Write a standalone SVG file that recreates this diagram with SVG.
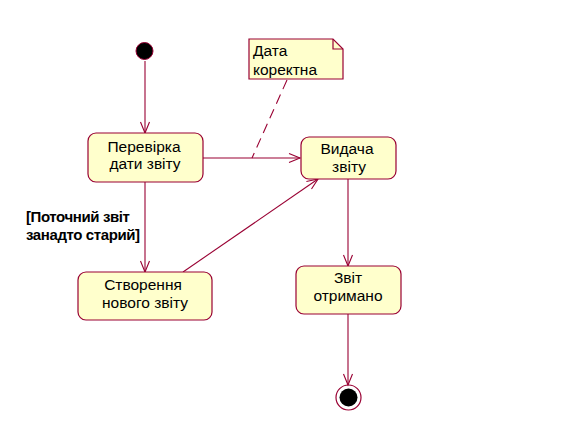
<svg xmlns="http://www.w3.org/2000/svg" width="587" height="440" viewBox="0 0 587 440">
<defs>
<style>
.st{fill:#FFFFCC;stroke:#990033;stroke-width:1.2}
.t{font-family:"Liberation Sans",Arial,sans-serif;font-size:15.5px;fill:#000;text-anchor:middle}
.n{font-family:"Liberation Sans",Arial,sans-serif;font-size:15.5px;fill:#000}
.c{fill:none;stroke:#990033;stroke-width:1.1}
.g{font-family:"Liberation Sans",Arial,sans-serif;font-size:15px;font-weight:bold;fill:#000;letter-spacing:-0.4px}
</style>
<marker id="a" markerWidth="14" markerHeight="12" refX="12" refY="6" orient="auto" markerUnits="userSpaceOnUse">
<path d="M1,1.5 L12,6 L1,10.5" fill="none" stroke="#990033" stroke-width="1.1"/>
</marker>
</defs>
<rect width="587" height="440" fill="#fff"/>
<g id="connectors">
<line class="c" x1="145" y1="61" x2="145" y2="133" marker-end="url(#a)"/>
<line class="c" x1="203" y1="158" x2="300" y2="158" marker-end="url(#a)"/>
<line class="c" x1="145" y1="182" x2="145" y2="272" marker-end="url(#a)"/>
<line class="c" x1="183" y1="272" x2="318" y2="179" marker-end="url(#a)"/>
<line class="c" x1="348" y1="179" x2="348" y2="266" marker-end="url(#a)"/>
<line class="c" x1="348" y1="314" x2="348" y2="385" marker-end="url(#a)"/>
<line class="c" x1="287" y1="80" x2="252" y2="158" stroke-dasharray="10,6"/>
<text class="g" x="26" y="222">[Поточний звіт</text>
<text class="g" x="26" y="240">занадто старий]</text>
</g>
<g id="initial">
<circle cx="144.5" cy="51" r="8.5" fill="#000" stroke="#990033" stroke-width="1"/>
</g>
<g id="check">
<rect class="st" x="88" y="133" width="115" height="49" rx="8"/>
<text class="t" x="144" y="152">Перевірка</text>
<text class="t" x="145" y="169">дати звіту</text>
</g>
<g id="issue">
<rect class="st" x="301" y="137" width="95" height="42" rx="8"/>
<text class="t" x="347" y="154">Видача</text>
<text class="t" x="349" y="172">звіту</text>
</g>
<g id="create">
<rect class="st" x="78" y="272" width="134" height="48" rx="8"/>
<text class="t" x="143" y="290">Створення</text>
<text class="t" x="145" y="308">нового звіту</text>
</g>
<g id="received">
<rect class="st" x="296" y="266" width="105" height="48" rx="8"/>
<text class="t" x="348" y="283">Звіт</text>
<text class="t" x="348" y="301">отримано</text>
</g>
<g id="final">
<circle cx="348.5" cy="397.5" r="12.5" fill="none" stroke="#990033" stroke-width="1.2"/>
<circle cx="348.5" cy="397.5" r="9" fill="#000"/>
</g>
<g id="note">
<path d="M249,39 H333 L343,49 V79 H249 Z" fill="#FFFFCC" stroke="#990033" stroke-width="1.2"/>
<path d="M333,39 V49 H343" fill="none" stroke="#990033" stroke-width="1.2"/>
<text class="n" x="253" y="56">Дата</text>
<text class="n" x="253" y="75">коректна</text>
</g>
</svg>
